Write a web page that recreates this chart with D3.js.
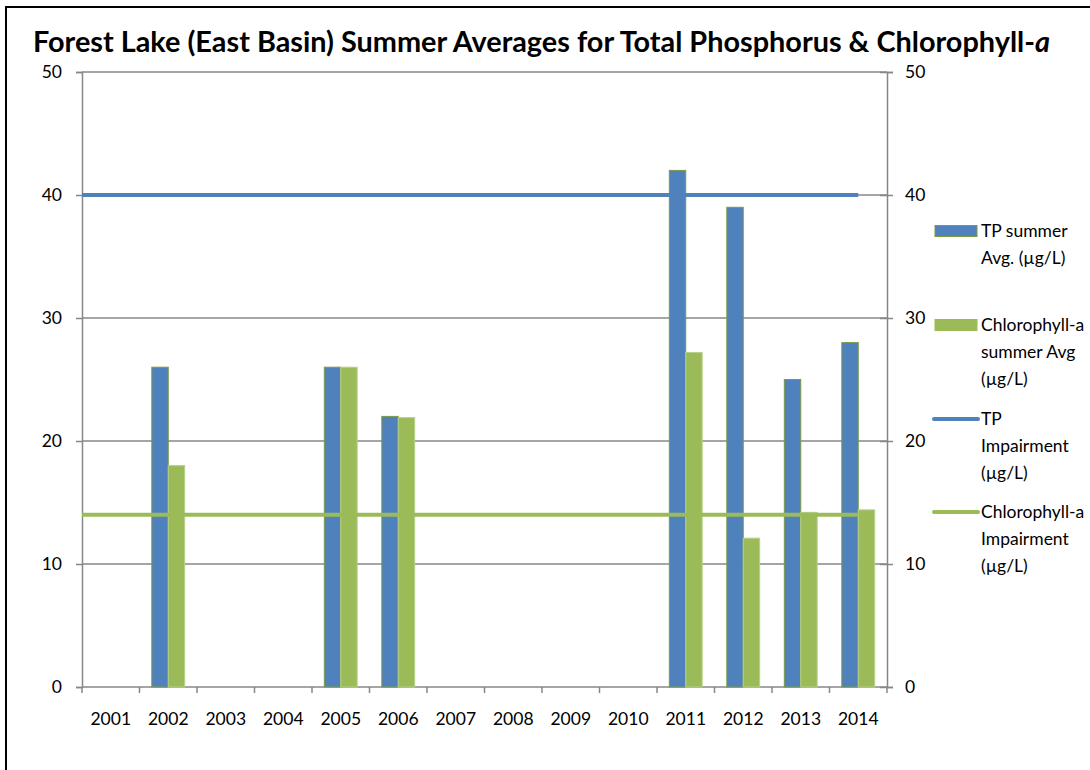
<!DOCTYPE html>
<html>
<head>
<meta charset="utf-8">
<script src="https://cdn.jsdelivr.net/npm/d3@7"></script>
<style>
  body { margin: 0; background: #fff; overflow: hidden; }
  text { font-family: Lato, "Open Sans", sans-serif; fill: #000; }
</style>
</head>
<body>
<div id="chart"></div>
<script>
// chart data
const years = ["2001", "2002", "2003", "2004", "2005", "2006", "2007",
               "2008", "2009", "2010", "2011", "2012", "2013", "2014"];
const tpAvg  = [null, 26, null, null, 26, 22, null, null, null, null, 42, 39, 25, 28];
const chlAvg = [null, 18, null, null, 26, 21.9, null, null, null, null, 27.2, 12.1, 14.2, 14.4];
const tpImpair  = [40, 40, 40, 40, 40, 40, 40, 40, 40, 40, 40, 40, 40, 40];
const chlImpair = [14, 14, 14, 14, 14, 14, 14, 14, 14, 14, 14, 14, 14, 14];
const yTicks = [0, 10, 20, 30, 40, 50];

const blue = "#4F81BD", green = "#9BBB59", axisGrey = "#878787";
const labelSize = "17.5px";

const svg = d3.select("#chart").append("svg")
    .attr("width", 1090)
    .attr("height", 770)
    .style("display", "block");

// outer chart frame, only the left and top edges are inside the picture
svg.append("path")
    .attr("d", "M6,770V7H1090")
    .attr("fill", "none").attr("stroke", "#000").attr("stroke-width", 2);

const plotLeft = 82, plotRight = 887, plotTop = 72, plotBottom = 687;

const x = d3.scaleBand().domain(years).range([plotLeft, plotRight]);
const xSub = d3.scaleBand().domain(["tp", "chl"]).range([0, x.bandwidth()]).paddingOuter(0.75);
const y = d3.scaleLinear().domain([0, 50]).range([plotBottom, plotTop]);
// impairment lines run from the axis to the middle of the last year
const xLine = d3.scalePoint().domain(years).range([plotLeft, x(years[years.length - 1]) + x.bandwidth() / 2]);

//gridlines
svg.append("g").selectAll("line")
    .data(yTicks.filter(d => d > 0))
    .enter().append("line")
    .attr("x1", plotLeft).attr("x2", plotRight)
    .attr("y1", d => y(d)).attr("y2", d => y(d))
    .attr("stroke", axisGrey).attr("stroke-width", 1.5);

//left axis
const gLeft = svg.append("g")
    .attr("transform", "translate(" + plotLeft + ",0)")
    .call(d3.axisLeft(y).tickValues(yTicks).tickSize(6).tickPadding(14));
//right axis
const gRight = svg.append("g")
    .attr("transform", "translate(" + plotRight + ",0)")
    .call(d3.axisRight(y).tickValues(yTicks).tickSize(6).tickPadding(12));
gRight.selectAll(".tick line").attr("x1", -7);

[gLeft, gRight].forEach(g => {
    g.selectAll(".domain").attr("stroke", axisGrey).attr("stroke-width", 1.5);
    g.selectAll(".tick line").attr("stroke", axisGrey).attr("stroke-width", 1.5);
    g.selectAll("text").attr("font-size", labelSize).attr("font-family", "Lato, sans-serif");
});

//bottom axis: labels from the band scale, ticks at band edges
const gBottom = svg.append("g")
    .attr("transform", "translate(0," + plotBottom + ")")
    .call(d3.axisBottom(x).tickSize(0).tickPadding(26));
gBottom.select(".domain").remove();
gBottom.selectAll("text").attr("font-size", labelSize).attr("font-family", "Lato, sans-serif");
svg.append("line")
    .attr("x1", plotLeft).attr("x2", plotRight)
    .attr("y1", plotBottom).attr("y2", plotBottom)
    .attr("stroke", axisGrey).attr("stroke-width", 1.5);
svg.append("g").selectAll("line")
    .data(years.concat(["end"]))
    .enter().append("line")
    .attr("x1", d => d === "end" ? plotRight : x(d))
    .attr("x2", d => d === "end" ? plotRight : x(d))
    .attr("y1", plotBottom).attr("y2", plotBottom + 6)
    .attr("stroke", axisGrey).attr("stroke-width", 1.5);

//bars
const barData = [];
years.forEach((yr, i) => {
    if (tpAvg[i] != null) barData.push({ year: yr, key: "tp", value: tpAvg[i] });
    if (chlAvg[i] != null) barData.push({ year: yr, key: "chl", value: chlAvg[i] });
});
svg.append("g").selectAll("rect")
    .data(barData)
    .enter().append("rect")
    .attr("x", d => x(d.year) + xSub(d.key))
    .attr("y", d => y(d.value))
    .attr("width", xSub.bandwidth())
    .attr("height", d => plotBottom - y(d.value))
    .attr("fill", d => d.key === "tp" ? blue : green)
    .attr("stroke", d => d.key === "tp" ? "#7A9A45" : "#B9CF8C")
    .attr("stroke-width", 1);

//impairment lines
const line = d3.line()
    .x((d, i) => xLine(years[i]))
    .y(d => y(d));
svg.append("path").datum(chlImpair)
    .attr("d", line).attr("fill", "none")
    .attr("stroke", green).attr("stroke-width", 4);
svg.append("path").datum(tpImpair)
    .attr("d", line).attr("fill", "none")
    .attr("stroke", blue).attr("stroke-width", 4);

//title (Calibri-like: tall but narrow, so squeeze to the measured width)
const title = svg.append("text")
    .attr("x", 33).attr("y", 52)
    .attr("font-weight", "bold")
    .attr("font-size", "28px")
    .attr("textLength", 1017)
    .attr("lengthAdjust", "spacingAndGlyphs");
title.append("tspan").text("Forest Lake (East Basin) Summer Averages for Total Phosphorus & Chlorophyll-");
title.append("tspan").attr("font-style", "italic").text("a");

//legend
const legendItems = [
    { type: "rect", color: blue, stroke: "#7A9A45", y: 231, lines: ["TP summer", "Avg. (µg/L)"] },
    { type: "rect", color: green, stroke: green, y: 325, lines: ["Chlorophyll-a", "summer Avg", "(µg/L)"] },
    { type: "line", color: blue, y: 419, lines: ["TP", "Impairment", "(µg/L)"] },
    { type: "line", color: green, y: 512, lines: ["Chlorophyll-a", "Impairment", "(µg/L)"] }
];
const lg = svg.append("g").selectAll("g")
    .data(legendItems)
    .enter().append("g")
    .attr("transform", d => "translate(0," + d.y + ")");
lg.filter(d => d.type === "rect").append("rect")
    .attr("x", 935).attr("y", -5.5)
    .attr("width", 42).attr("height", 11)
    .attr("fill", d => d.color)
    .attr("stroke", d => d.stroke).attr("stroke-width", 1);
lg.filter(d => d.type === "line").append("line")
    .attr("x1", 934).attr("x2", 978)
    .attr("y1", 0).attr("y2", 0)
    .attr("stroke", d => d.color).attr("stroke-width", 4)
    .attr("stroke-linecap", "round");
lg.append("text")
    .attr("font-size", labelSize)
    .selectAll("tspan")
    .data(d => d.lines)
    .enter().append("tspan")
    .attr("x", 981)
    .attr("y", (d, i) => i * 27)
    .attr("dy", "0.35em")
    .text(d => d);
</script>
</body>
</html>
